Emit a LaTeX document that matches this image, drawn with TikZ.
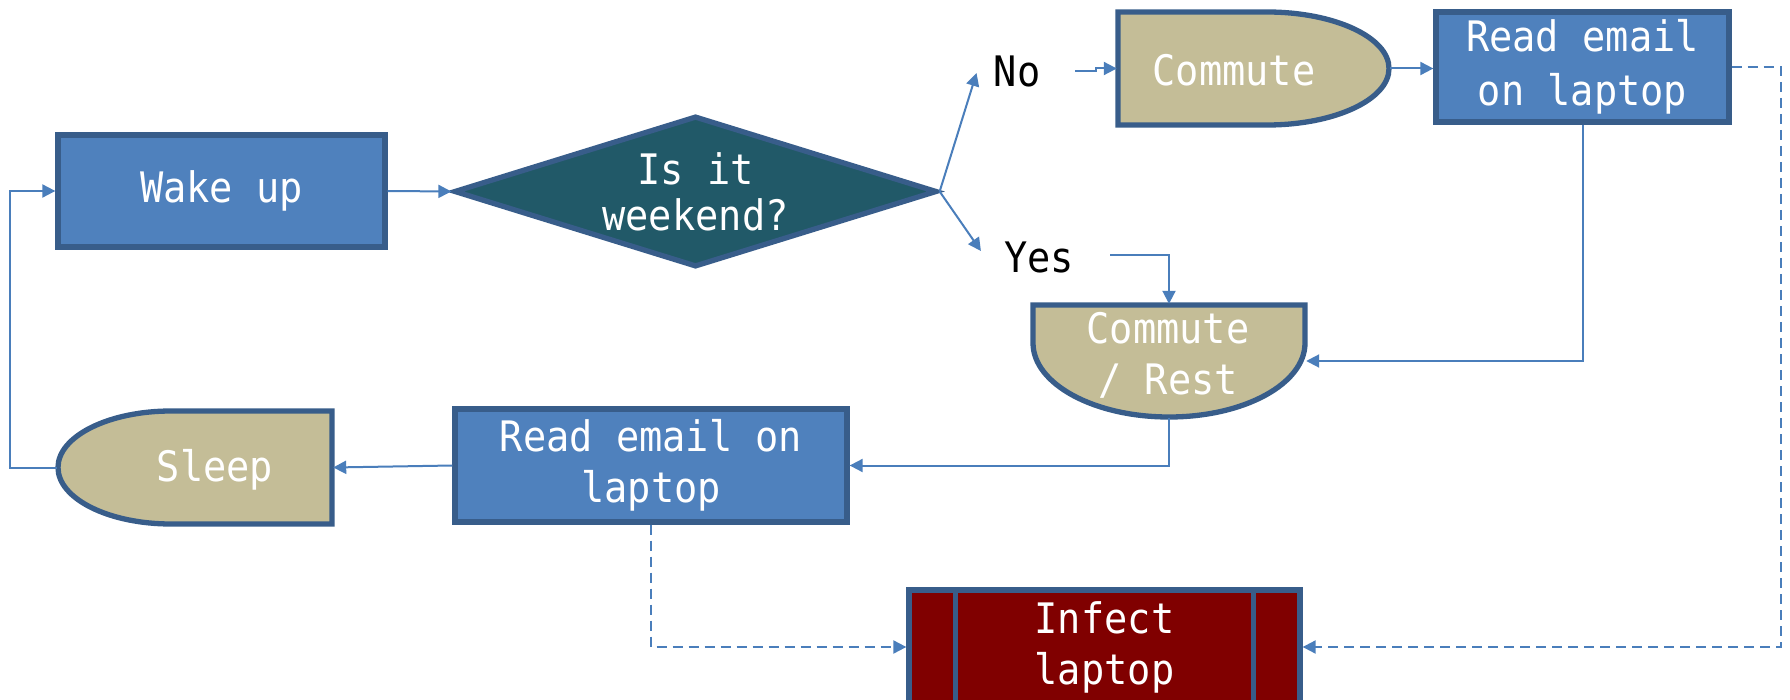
\documentclass[tikz,border=0pt]{standalone}
\usepackage{fontspec}
\newfontfamily\diafont{DejaVu Sans Mono}[FakeStretch=0.92]
\usetikzlibrary{shapes.geometric,arrows.meta}
\definecolor{boxblue}{HTML}{4F81BD}
\definecolor{edgeblue}{HTML}{385D8A}
\definecolor{linkblue}{HTML}{4A7EBB}
\definecolor{tanfill}{HTML}{C4BD97}
\definecolor{tealfill}{HTML}{215968}
\definecolor{maroonfill}{HTML}{800000}
\begin{document}
\begin{tikzpicture}[x=1pt,y=-1pt,
  every node/.style={font=\diafont\fontsize{42}{51}\selectfont},
  procbox/.style={rectangle, draw=edgeblue, line width=5.3pt, fill=boxblue, text=white, align=center, inner sep=0pt},
  anchorbox/.style={rectangle, draw=none, inner sep=0pt},
  shapeline/.style={draw=edgeblue, line width=5.3pt, fill=tanfill},
  conn/.style={draw=linkblue, line width=2pt, -{Triangle[length=13pt,width=13pt]}},
  dashconn/.style={conn, dash pattern=on 10pt off 6pt},
  lbl/.style={text=black, inner sep=0pt},
  intext/.style={text=white, align=center, inner sep=0pt}]
\path[use as bounding box, clip] (0,0) rectangle (1790,700);

% Wake up
\node[procbox, minimum width=327pt, minimum height=112pt] (wake) at (221.5,191) {Wake up};

% Decision
\node[diamond, draw=edgeblue, line width=5.3pt, fill=tealfill, minimum width=483pt, minimum height=151pt, inner sep=0pt] (dia) at (695.5,191.5) {};
\node[intext, font=\diafont\fontsize{42}{46}\selectfont] at (dia) {Is it\\weekend?};

% Commute (delay shape)
\node[anchorbox, minimum width=273pt, minimum height=115pt] (com1) at (1253.5,68.5) {};
\path[shapeline] (1118,12) -- (1267,12) arc[start angle=-90,end angle=90,x radius=122,y radius=56.5] -- (1118,125) -- cycle;
\node[intext] at (1234,70) {Commute};

% Read email (top)
\node[procbox, minimum width=293pt, minimum height=110pt, font=\diafont\fontsize{42}{54}\selectfont] (read1) at (1582.5,67) {Read email\\on laptop};

% Commute / Rest
\node[anchorbox, minimum width=274pt, minimum height=114pt] (rest) at (1169,361) {};
\path[shapeline] (1033,305) -- (1305,305) -- (1305,343) arc[start angle=0,end angle=180,x radius=136,y radius=74] -- cycle;
\node[intext] at (1168,355) {Commute\\/ Rest};

% Read email (bottom)
\node[procbox, minimum width=392pt, minimum height=113pt] (read2) at (651,465.5) {Read email on\\laptop};

% Sleep
\node[anchorbox, minimum width=276pt, minimum height=115pt] (sleep) at (195,467.5) {};
\path[shapeline] (332,411) -- (332,524) -- (171,524) arc[start angle=90,end angle=270,x radius=113,y radius=56.5] -- cycle;
\node[intext] at (215,470) {Sleep};

% Infect laptop
\node[rectangle, draw=edgeblue, line width=5.3pt, fill=maroonfill, text=white, align=center, minimum width=391pt, minimum height=114pt, inner sep=0pt] (infect) at (1104.5,647) {Infect\\laptop};
\draw[edgeblue, line width=5pt] ([xshift=49pt]infect.north west) -- ([xshift=49pt]infect.south west);
\draw[edgeblue, line width=5pt] ([xshift=-49pt]infect.north east) -- ([xshift=-49pt]infect.south east);

% Labels
\node[lbl] (no) at (1017,71) {No};
\node[lbl] (yes) at (1039,257) {Yes};

% Connectors
\draw[conn] (wake.east) -- (dia.west);
\draw[conn] (dia.east) -- ([xshift=-17pt,yshift=-2pt]no.west);
\draw[conn] (dia.east) -- ([xshift=-23pt,yshift=6pt]yes.west);
\draw[conn] ([xshift=35pt]no.east) -- ++(21,0) |- (com1.west);
\draw[conn] ([xshift=36pt,yshift=2pt]yes.east) -| (rest.north);
\draw[conn] (com1.east) -- (com1.east -| read1.west);
\draw[conn] (read1.south) |- (rest.east);
\draw[conn] (rest.south) |- (read2.east);
\draw[conn] (read2.west) -- (sleep.east);
\draw[conn] (sleep.west) -- ++(-47,0) |- (wake.west);
\draw[dashconn] (read2.south) |- (infect.west);
\draw[dashconn] (read1.east) -- ++(49,0) |- (infect.east);
\end{tikzpicture}
\end{document}
